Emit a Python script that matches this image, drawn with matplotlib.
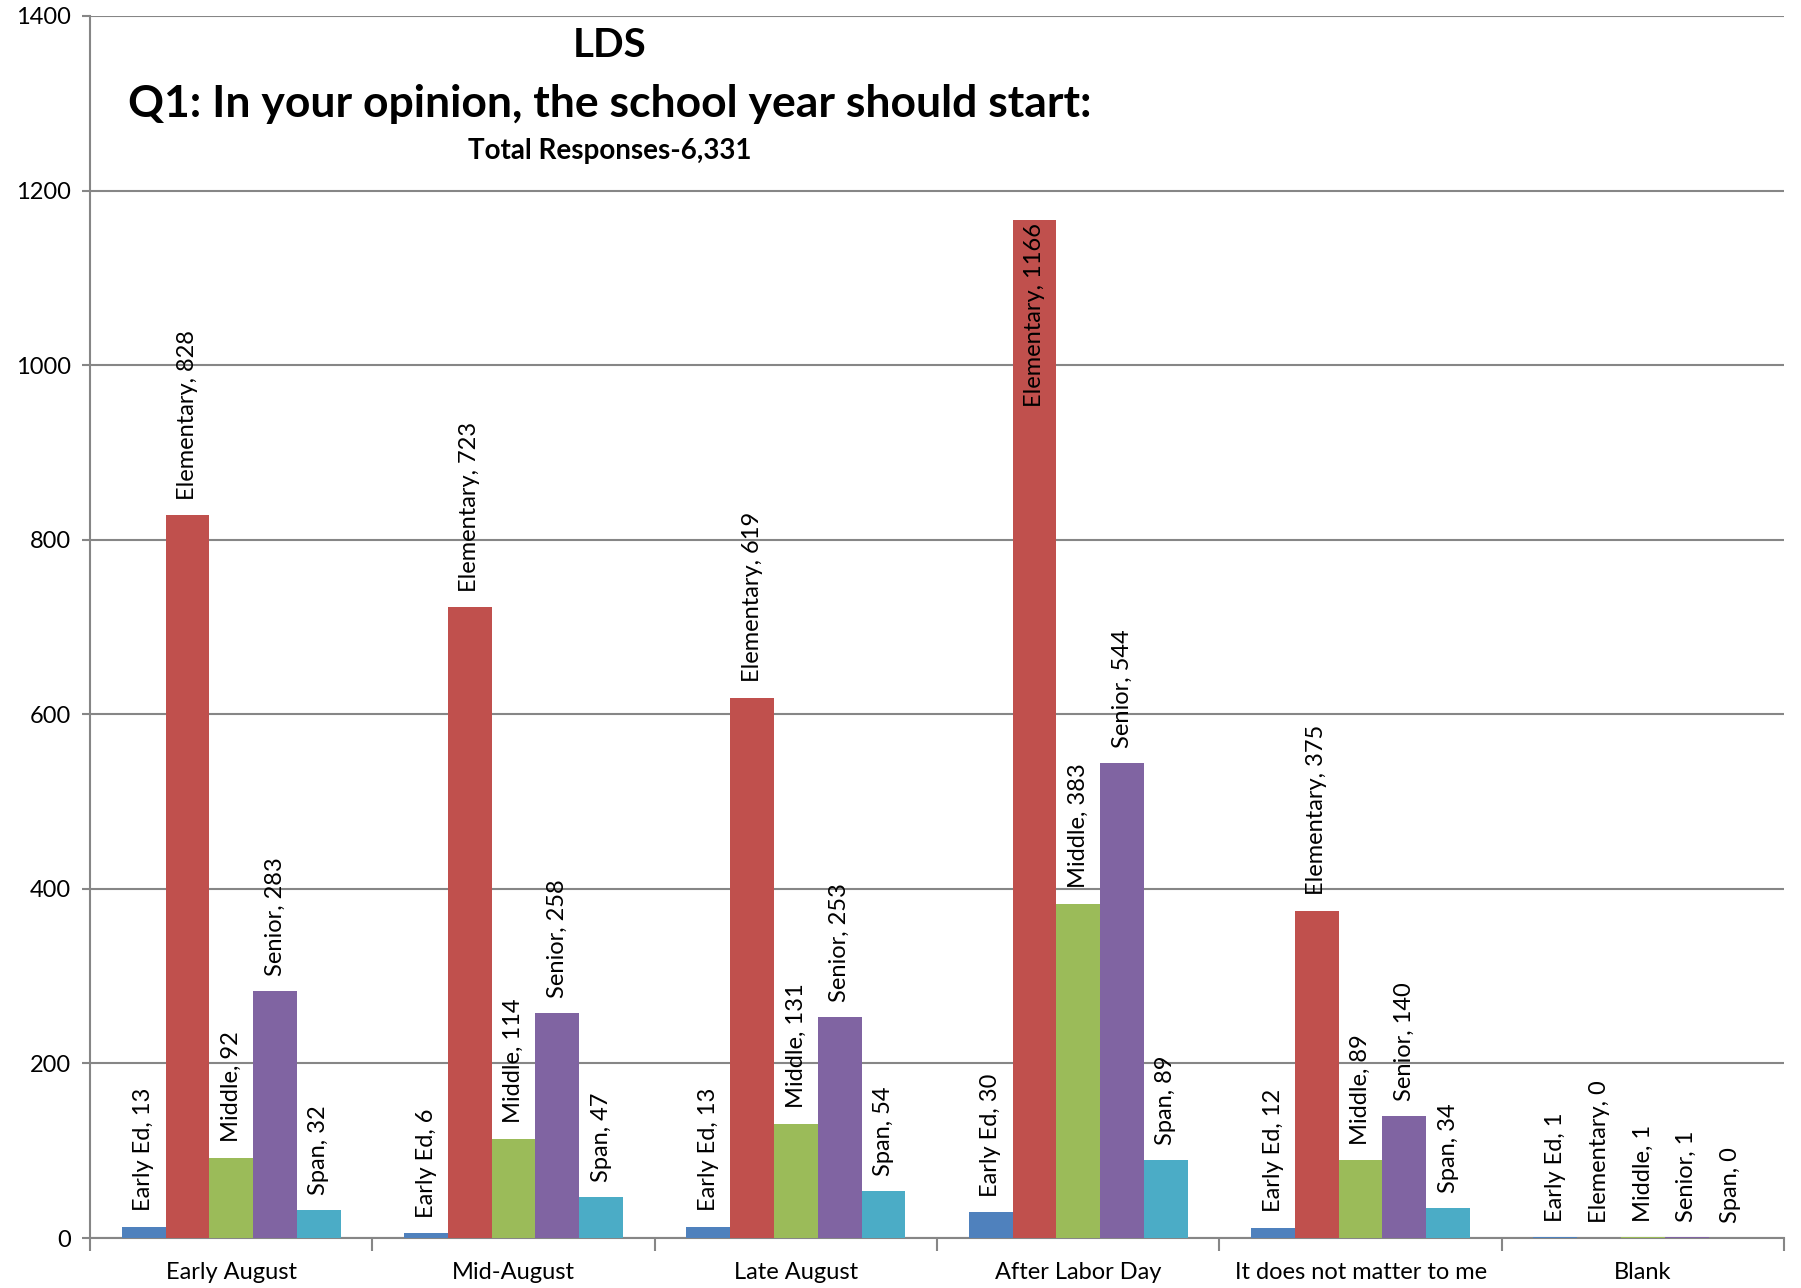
import matplotlib
matplotlib.use("Agg")
import matplotlib.pyplot as plt
import numpy as np

plt.rcParams['font.family'] = ['Lato', 'DejaVu Sans']

categories = ["Early August", "Mid-August", "Late August", "After Labor Day",
              "It does not matter to me", "Blank"]
series = ["Early Ed", "Elementary", "Middle", "Senior", "Span"]
early_ed = [13, 6, 13, 30, 12, 1]
elementary = [828, 723, 619, 1166, 375, 0]
middle = [92, 114, 131, 383, 89, 1]
senior = [283, 258, 253, 544, 140, 1]
span = [32, 47, 54, 89, 34, 0]
colors = ["#4F81BD", "#C0504D", "#9BBB59", "#8064A2", "#4BACC6"]

values = [early_ed, elementary, middle, senior, span]

fig = plt.figure(figsize=(18.01, 12.88), dpi=100)
ax = fig.add_axes([0.05, 0.0388, 0.9406, 0.9488])

x = np.arange(len(categories))
w = 0.155
grid_c = "#868686"

for i, (name, vals, c) in enumerate(zip(series, values, colors)):
    xs = x + (i - 2) * w
    ax.bar(xs, vals, width=w, color=c, zorder=3)
    for xi, v in zip(xs, vals):
        label = f"{name}, {v}"
        if v > 1000:
            # no room above: Excel puts it inside the bar
            ax.annotate(label, (xi, v), xytext=(0, -2), textcoords="offset points",
                        rotation=90, ha="center", va="top", fontsize=17, zorder=4)
        else:
            ax.annotate(label, (xi, v), xytext=(0, 11), textcoords="offset points",
                        rotation=90, ha="center", va="bottom", fontsize=17, zorder=4)

ax.set_xlim(-0.5, len(categories) - 0.5)
ax.set_ylim(0, 1400)
ax.set_yticks(np.arange(0, 1401, 200))
ax.yaxis.grid(True, color=grid_c, linewidth=1.5, zorder=0)

ax.set_xticks(np.arange(-0.5, len(categories), 1.0))
ax.set_xticklabels([])
ax.set_xticks(x, minor=True)
ax.set_xticklabels(categories, minor=True, fontsize=17)
ax.tick_params(axis="x", which="major", length=9, width=1.5, color=grid_c, direction="out")
ax.tick_params(axis="x", which="minor", length=0, pad=17)
ax.tick_params(axis="y", length=6, width=1.5, color=grid_c, labelsize=17, pad=8)

for s in ["top", "right"]:
    ax.spines[s].set_visible(False)
for s in ["left", "bottom"]:
    ax.spines[s].set_color(grid_c)
    ax.spines[s].set_linewidth(1.5)

fig.text(0.3387, 0.9650, "LDS", ha="center", va="center", fontsize=29, fontweight="bold")
fig.text(0.3387, 0.9189, "Q1: In your opinion, the school year should start:",
         ha="center", va="center", fontsize=32, fontweight="bold")
fig.text(0.3387, 0.8825, "Total Responses-6,331", ha="center", va="center",
         fontsize=20, fontweight="bold")

fig.savefig("out.png", dpi=100)
